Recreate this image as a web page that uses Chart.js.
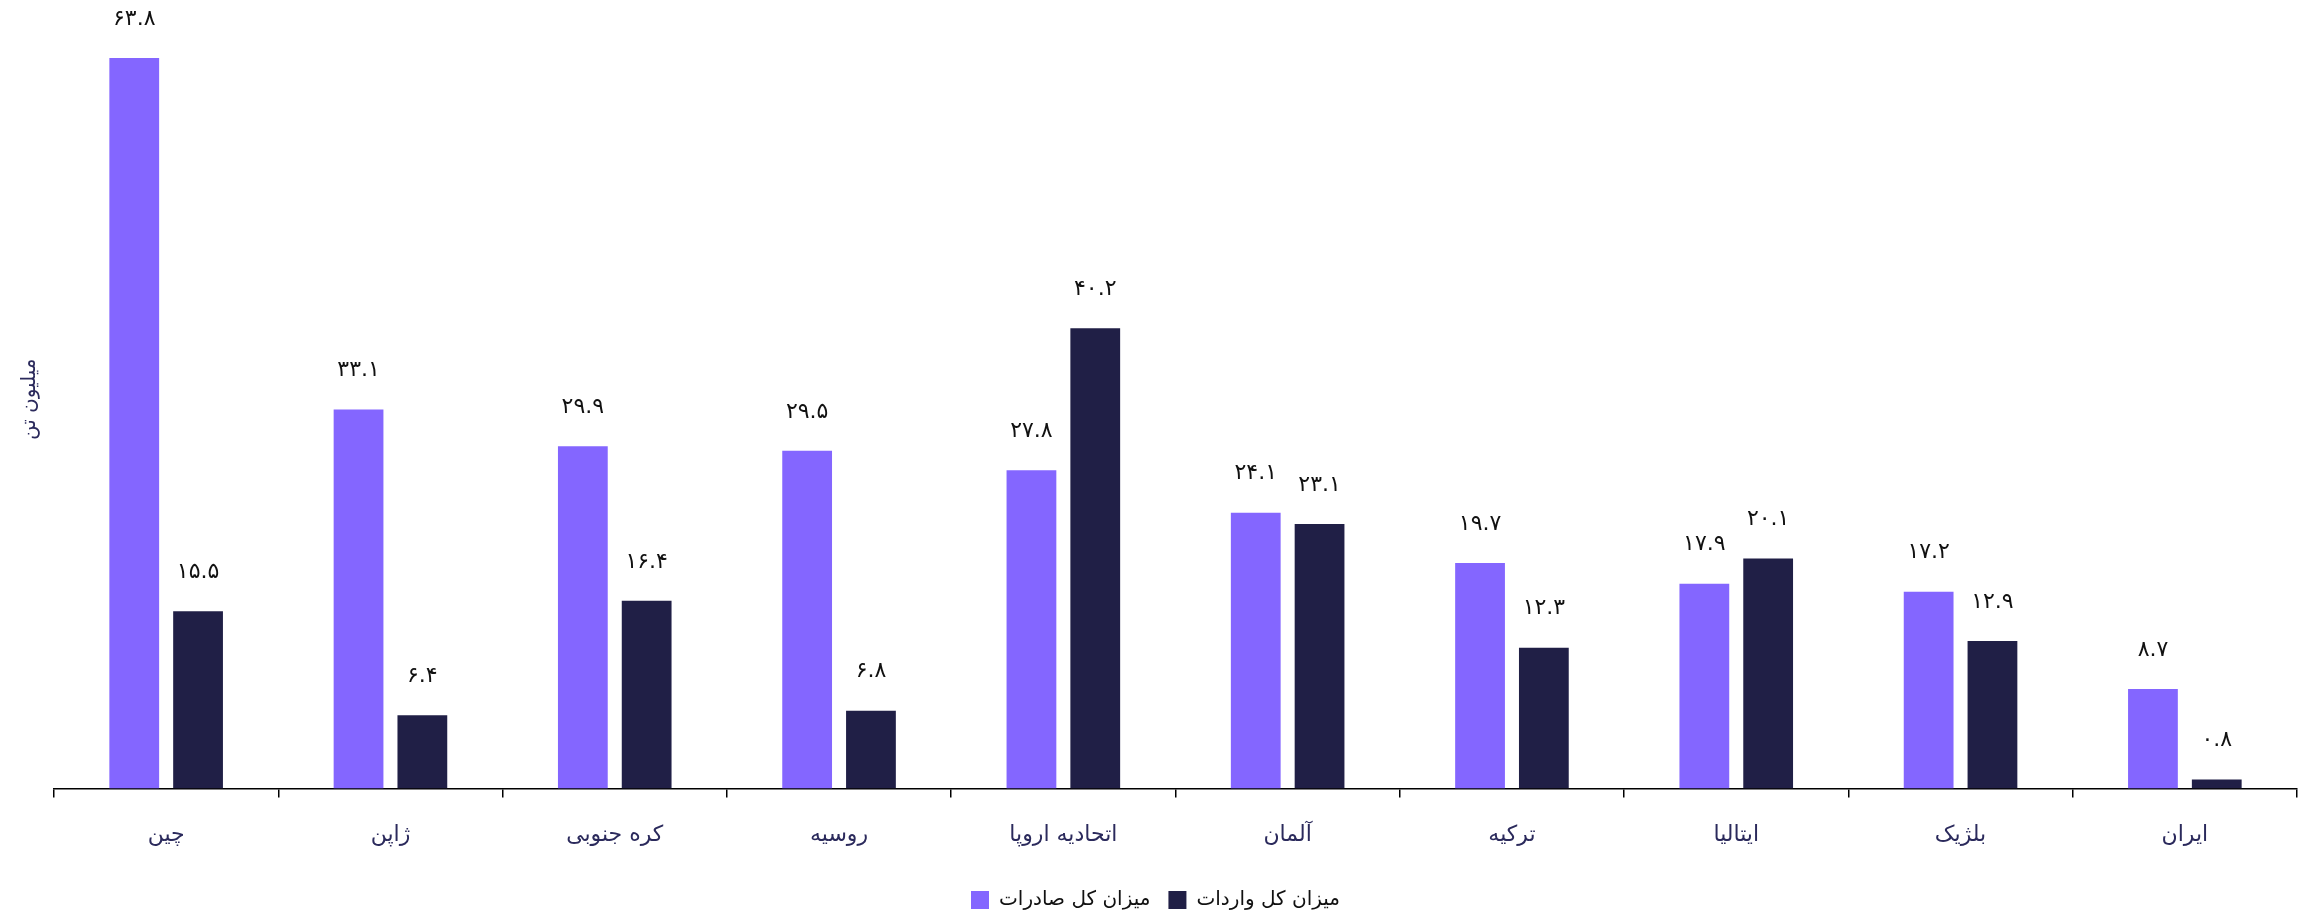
<!DOCTYPE html>
<html lang="fa">
<head>
<meta charset="utf-8">
<script src="https://cdn.jsdelivr.net/npm/chart.js@4"></script>
<style>
  html, body { margin: 0; padding: 0; background: #fff; }
  canvas { display: block; }
</style>
</head>
<body>
<canvas id="tradeChart" width="2306" height="915"></canvas>
<script>
const countries = ['چین', 'ژاپن', 'کره جنوبی', 'روسیه', 'اتحادیه اروپا', 'آلمان', 'ترکیه', 'ایتالیا', 'بلژیک', 'ایران'];
const exportsTotal = [63.8, 33.1, 29.9, 29.5, 27.8, 24.1, 19.7, 17.9, 17.2, 8.7];
const importsTotal = [15.5, 6.4, 16.4, 6.8, 40.2, 23.1, 12.3, 20.1, 12.9, 0.8];
const seriesNames = ['میزان کل صادرات', 'میزان کل واردات'];
const yTitle = 'میلیون تن';

const FONT = "'DejaVu Sans', sans-serif";
const textColor = '#2b2a5c';

function toPersianDigits(v) {
  return String(v).replace(/\d/g, d => '۰۱۲۳۴۵۶۷۸۹'[d]);
}

// value labels above each bar
const barLabels = {
  id: 'barLabels',
  afterDatasetsDraw(chart) {
    const ctx = chart.ctx;
    ctx.save();
    ctx.font = '22px ' + FONT;
    ctx.fillStyle = '#111';
    ctx.textAlign = 'center';
    ctx.textBaseline = 'middle';
    chart.data.datasets.forEach((ds, i) => {
      chart.getDatasetMeta(i).data.forEach((bar, j) => {
        ctx.fillText(toPersianDigits(ds.data[j]), bar.x, bar.y - 39);
      });
    });
    ctx.restore();
  }
};

new Chart(document.getElementById('tradeChart'), {
  type: 'bar',
  data: {
    labels: countries,
    datasets: [
      { label: seriesNames[0], data: exportsTotal, backgroundColor: '#8466ff', categoryPercentage: 0.569, barPercentage: 0.78 },
      { label: seriesNames[1], data: importsTotal, backgroundColor: '#201f46', categoryPercentage: 0.569, barPercentage: 0.78 }
    ]
  },
  options: {
    responsive: false,
    animation: false,
    layout: { padding: { top: 10, left: 14, right: 9, bottom: -5 } },
    scales: {
      x: {
        grid: { display: true, drawOnChartArea: false, offset: true, tickLength: 9, color: '#000', lineWidth: 1.5 },
        border: { display: true, color: '#000', width: 1.5 },
        ticks: { color: textColor, font: { family: FONT, size: 22, lineHeight: 1.2 }, padding: 24 }
      },
      y: {
        min: 0,
        max: 68,
        ticks: { display: false },
        grid: { display: false },
        border: { display: false },
        title: { display: true, text: yTitle, color: textColor, font: { family: FONT, size: 20 } }
      }
    },
    plugins: {
      legend: {
        position: 'bottom',
        labels: { color: '#111', font: { family: FONT, size: 20 }, boxWidth: 18, boxHeight: 18, padding: 18 }
      },
      tooltip: { enabled: false }
    }
  },
  plugins: [barLabels]
});
</script>
</body>
</html>
